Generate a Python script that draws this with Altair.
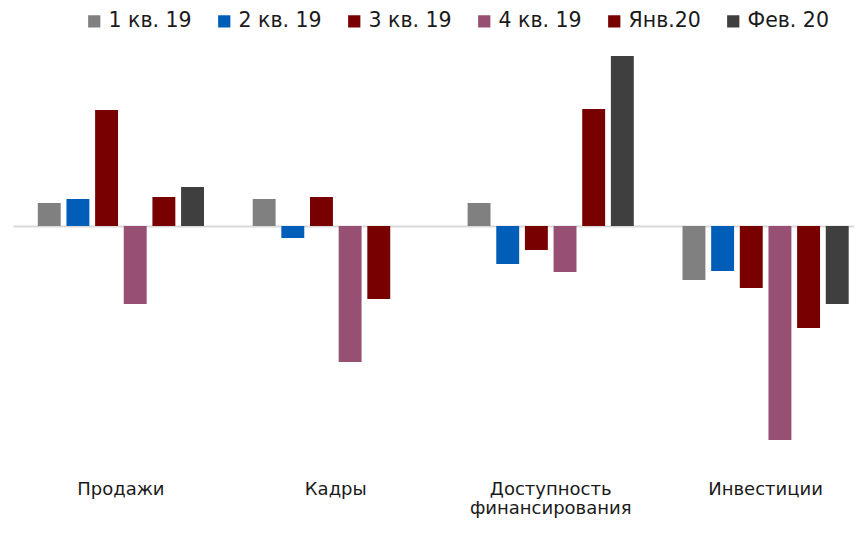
import altair as alt
import pandas as pd

categories = ["Продажи", "Кадры", "Доступность\nфинансирования", "Инвестиции"]
series = ["1 кв. 19", "2 кв. 19", "3 кв. 19", "4 кв. 19", "Янв.20", "Фев. 20"]
colors = ["#808080", "#005EB8", "#780000", "#974F73", "#780000", "#3F3F3F"]

v_sales = [2.3, 2.7, 11.6, -7.8, 2.9, 3.9]
v_staff = [2.7, -1.2, 2.9, -13.6, -7.3, None]
v_finance = [2.3, -3.8, -2.4, -4.6, 11.7, 17.0]
v_invest = [-5.4, -4.5, -6.2, -21.4, -10.2, -7.8]

rows = []
for cat, vals in zip(categories, [v_sales, v_staff, v_finance, v_invest]):
    for s, v in zip(series, vals):
        if v is not None:
            rows.append({"cat": cat, "series": s, "value": v})
df = pd.DataFrame(rows)

FONT = "DejaVu Sans"

chart = alt.Chart(df).mark_bar().encode(
    x=alt.X("cat:N", sort=categories, title=None,
            scale=alt.Scale(paddingInner=0.2, paddingOuter=0.0567, align=0.9),
            axis=alt.Axis(domain=False, ticks=False, labelAngle=0, labelFont=FONT,
                          labelFontSize=18, labelColor="#1a1a1a", labelPadding=14,
                          labelLineHeight=19.5, labelLimit=400,
                          labelExpr="split(datum.label, '\\n')")),
    xOffset=alt.XOffset("series:N", sort=series,
                        scale=alt.Scale(paddingInner=0.2, paddingOuter=0.1)),
    y=alt.Y("value:Q", scale=alt.Scale(domain=[-24, 18], nice=False, zero=True),
            axis=alt.Axis(title=None, values=[0], grid=True, gridColor="#D9D9D9",
                          gridWidth=2, labels=False, ticks=False, domain=False)),
    color=alt.Color("series:N", sort=series,
                    scale=alt.Scale(domain=series, range=colors),
                    legend=alt.Legend(title=None, orient="none", direction="horizontal",
                                      legendX=71, legendY=-35,
                                      symbolType="square", symbolSize=150,
                                      symbolStrokeWidth=0, labelFont=FONT,
                                      labelFontSize=20.5, labelColor="#1a1a1a",
                                      labelOffset=4, columnPadding=22)),
).properties(
    width=841, height=420,
    autosize=alt.AutoSizeParams(type="none"),
    padding={"left": 5, "top": 38, "right": 0, "bottom": 54},
).configure_view(stroke=None)

chart.save("out.html", embed_options={"renderer": "svg", "actions": False})
